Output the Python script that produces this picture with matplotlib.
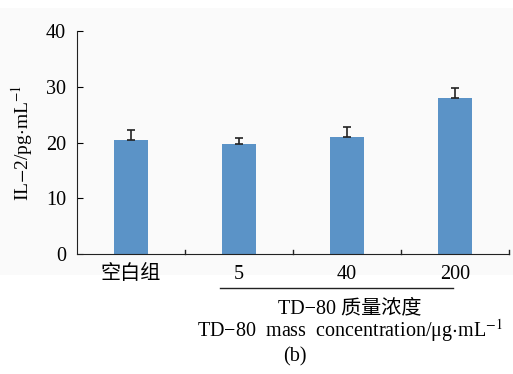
import matplotlib
matplotlib.use("Agg")
import matplotlib.pyplot as plt
from matplotlib.patches import Rectangle
from matplotlib.lines import Line2D

categories = ["空白组", "5", "40", "200"]
values = [20.4, 19.8, 21.0, 27.9]
errors = [1.8, 0.95, 1.8, 1.9]
yticks = [0, 10, 20, 30, 40]

plt.rcParams['font.family'] = ['Liberation Serif', 'Noto Sans CJK SC']
plt.rcParams['mathtext.fontset'] = 'stix'

FS = 14.5
W, H = 513, 374
fig = plt.figure(figsize=(W/100, H/100), dpi=100)
fig.patch.set_facecolor('white')
fig.add_artist(Rectangle((0, 1 - 275/H), 1, (275-8)/H, transform=fig.transFigure,
                         facecolor='#fafafa', edgecolor='none', zorder=-10))

ax = fig.add_axes([77/W, 1 - 254/H, (509-77)/W, (254-31)/H])
ax.set_facecolor('none')
x = range(len(categories))
ax.bar(x, values, width=0.32, color='#5b93c7', zorder=2)
ax.errorbar(x, values, yerr=[[0]*len(errors), errors], fmt='none', ecolor='#222222',
            elinewidth=1.2, capsize=3, capthick=1.2, zorder=3)
ax.set_xlim(-0.5, len(categories) - 0.5)
ax.set_ylim(0, 40)
ax.set_yticks(yticks)
ax.set_xticks(list(x))
ax.set_xticklabels(categories, fontsize=FS)
ax.tick_params(axis='x', length=0, pad=8)
ax.tick_params(axis='y', direction='in', length=4, labelsize=FS, pad=8)
for b in [0.5, 1.5, 2.5, 3.5]:
    ax.plot([b, b], [0, 0.8], color='#222222', lw=1, clip_on=False)
for s in ['top', 'right']:
    ax.spines[s].set_visible(False)
ax.spines['left'].set_color('#222222')
ax.spines['bottom'].set_color('#222222')
ax.set_ylabel(r'IL$-$2/pg$\cdot$mL$^{-1}$', fontsize=14, labelpad=8)

fig.add_artist(Line2D([220/W, 453/W], [1-288/H, 1-288/H], color='#222222', lw=1))
fig.text(350/W, 1-309/H, 'TD−80 质量浓度', ha='center', va='center', fontsize=FS)
fig.text(350/W, 1-331/H, r'TD−80  mass  concentration/μg$\cdot$mL$^{-1}$',
         ha='center', va='center', fontsize=FS)
fig.text(295/W, 1-357/H, '(b)', ha='center', va='center', fontsize=FS)

fig.savefig('out.png', dpi=100)
